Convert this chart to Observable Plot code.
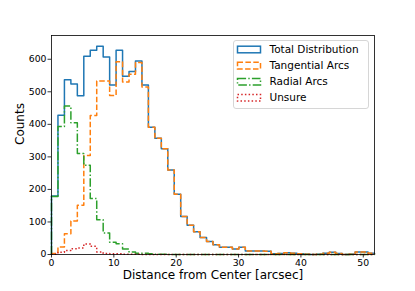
<!DOCTYPE html>
<html><head><meta charset="utf-8">
<script src="https://cdn.jsdelivr.net/npm/d3@7"></script>
<script src="https://cdn.jsdelivr.net/npm/@observablehq/plot@0.6"></script>
<style>
html,body{margin:0;padding:0;background:#fff;}
#chart{width:415px;height:291px;}
</style>
</head><body><div id="chart"></div>
<script>
// ---- data ----
const binWidth = 1.036;           // arcsec per bin, 50 bins from 0
const totalCounts = [180,428,537,524,488,609,628,640,607,521,628,548,562,595,521,391,357,325,260,185,117,90,70,52,40,30,22,22,17,22,11,11,11,10,2,3,5,4,2,1,0,1,4,7,3,0,1,8,8,4];
const tangentialCounts = [3,23,64,103,151,304,427,533,533,489,592,530,554,590,515,391,357,325,260,185,117,90,70,52,40,30,22,22,17,22,11,11,11,10,2,3,5,4,2,1,0,1,4,7,3,0,1,8,8,4];
const radialCounts = [178,393,456,405,310,274,172,107,66,38,33,17,8,4,4,2,1,1,0,0,0,0,0,0,0,0,0,0,0,0,0,0,0,0,0,0,0,0,0,0,0,0,0,0,0,0,0,0,0,0];
const unsureCounts = [1,7,12,18,20,32,25,8,3,2,2,1,1,1,0,0,0,0,0,0,0,0,0,0,0,0,0,0,0,0,0,0,0,0,0,0,0,0,0,0,0,0,0,0,0,0,0,0,0,0];
const seriesNames = ["Total Distribution","Tangential Arcs","Radial Arcs","Unsure"];
const seriesColors = ["#1f77b4","#ff7f0e","#2ca02c","#d62728"];
const seriesDash = [null,"5.5,2.4","8.6,2.2,1.4,2.2","1.5,2.2"];
const xTicks = [0,10,20,30,40,50];
const yTicks = [0,100,200,300,400,500,600];
const xDomain = [0, 51.8];
const yDomain = [0, 673];
const xLabel = "Distance from Center [arcsec]";
const yLabel = "Counts";

function steps(counts) {
  const n = counts.length;
  const pts = [{x: 0, y: 0}];
  counts.forEach((c, i) => pts.push({x: i * binWidth, y: c}));
  pts.push({x: n * binWidth, y: counts[n - 1]});
  pts.push({x: n * binWidth, y: 0});
  return pts;
}
const allCounts = [totalCounts, tangentialCounts, radialCounts, unsureCounts];

const lineMarks = allCounts.map((c, i) => Plot.line(steps(c), {
  x: "x", y: "y", curve: "step-after",
  stroke: seriesColors[i], strokeWidth: 1.5,
  strokeDasharray: seriesDash[i] || undefined,
  strokeLinecap: "butt", strokeLinejoin: "round"
}));

const chart = Plot.plot({
  width: 415, height: 291,
  marginTop: 35, marginRight: 41, marginBottom: 37, marginLeft: 51,
  style: {fontFamily: "DejaVu Sans", fontSize: "9.3px", background: "#fff", color: "#000"},
  x: {domain: xDomain},
  y: {domain: yDomain},
  marks: [
    ...lineMarks,
    Plot.frame({stroke: "#000", strokeWidth: 0.8}),
    Plot.axisX({ticks: xTicks, tickSize: 3.5, tickPadding: 1.5, strokeWidth: 0.8, label: null, tickFormat: d => String(d)}),
    Plot.axisY({ticks: yTicks, tickSize: 3.5, tickPadding: 1.5, strokeWidth: 0.8, label: null, tickFormat: d => String(d)}),
    Plot.text([xLabel], {text: d => d, frameAnchor: "bottom", dy: 24.5, fontSize: 12}),
    Plot.text([yLabel], {text: d => d, frameAnchor: "left", dx: -31, rotate: -90, fontSize: 12})
  ]
});
document.getElementById("chart").appendChild(chart);

// legend (inside the axes, upper right)
const svg = d3.select(chart);
const lg = svg.append("g").attr("transform", "translate(233.5,40.5)").attr("text-anchor", "start");
lg.append("rect").attr("width", 135).attr("height", 68).attr("rx", 2.5)
  .attr("fill", "#fff").attr("fill-opacity", 0.8).attr("stroke", "#cccccc").attr("stroke-width", 0.8);
seriesNames.forEach((name, i) => {
  const cy = 9 + i * 16.1;
  lg.append("rect").attr("x", 4).attr("y", cy - 3.3).attr("width", 23).attr("height", 6.6)
    .attr("fill", "none").attr("stroke", seriesColors[i]).attr("stroke-width", 1.5)
    .attr("stroke-dasharray", seriesDash[i]);
  lg.append("text").attr("x", 36).attr("y", cy).attr("dy", "0.35em").attr("text-anchor", "start")
    .attr("font-family", "DejaVu Sans").attr("font-size", 10.5).attr("fill", "#000").text(name);
});
</script>
</body></html>
